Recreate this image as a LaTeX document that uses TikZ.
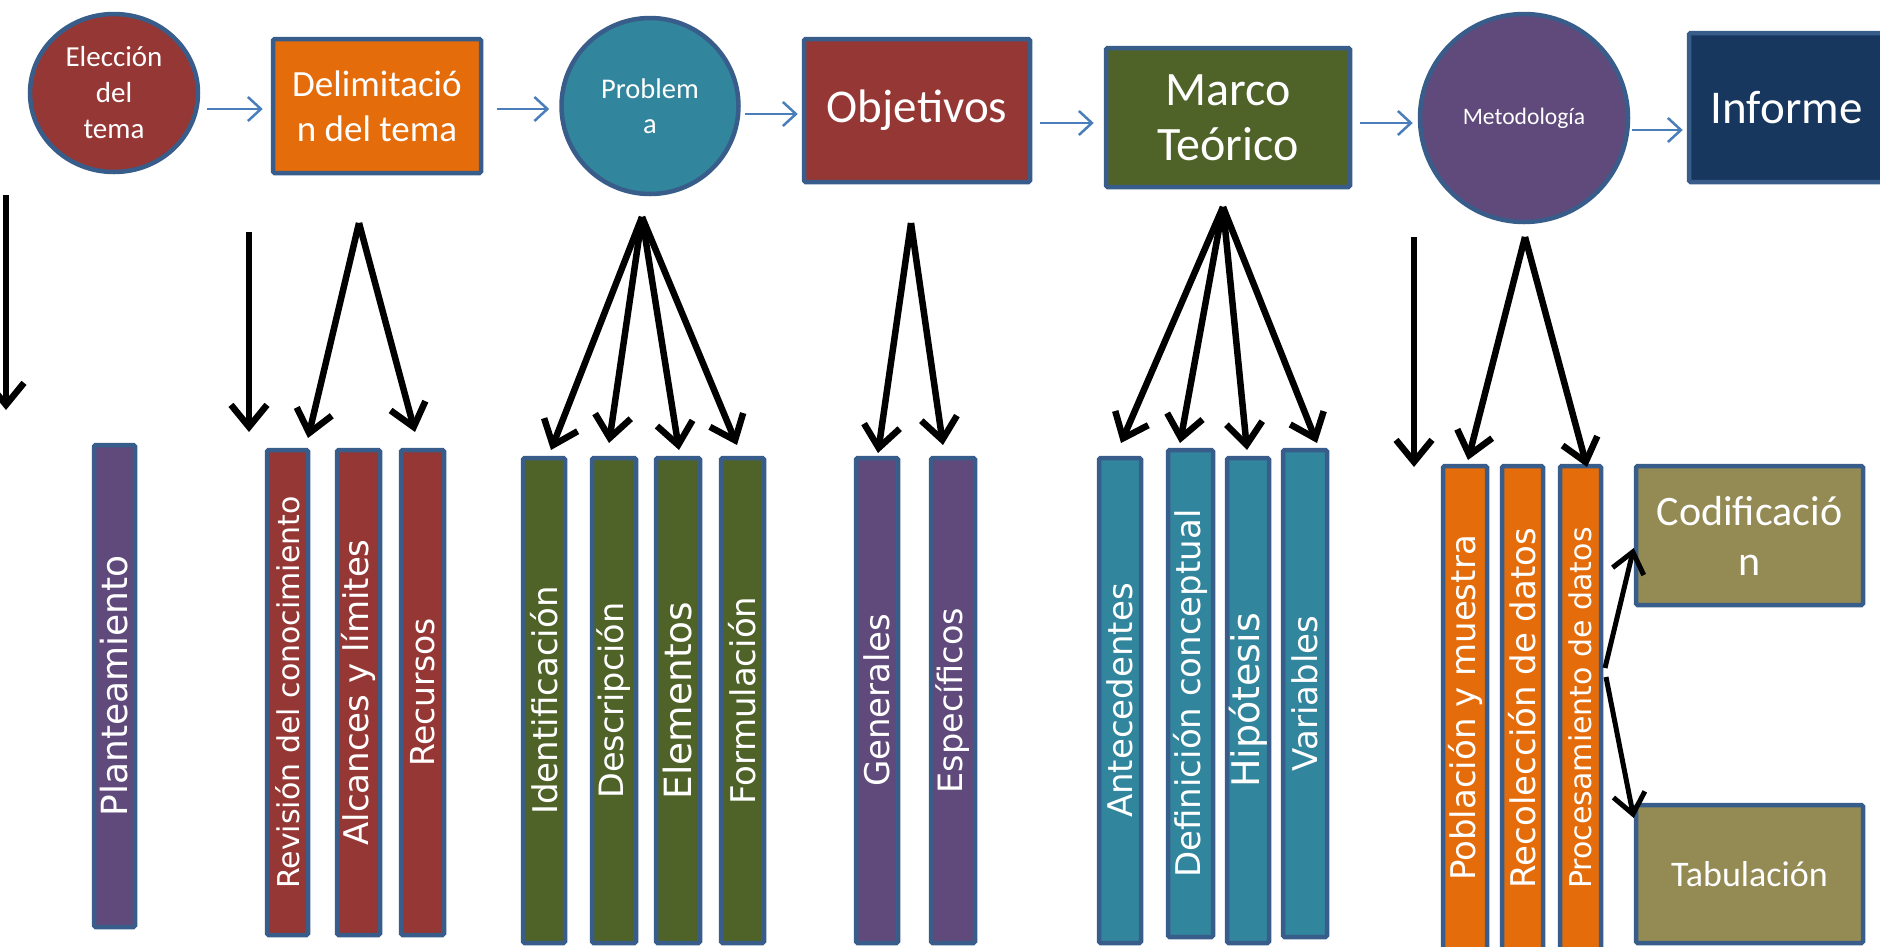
\documentclass[tikz,border=0pt]{standalone}
\usepackage{fontspec}
\setmainfont{Carlito}
\newfontfamily\barfont{DejaVu Sans}
\usetikzlibrary{arrows.meta,shapes.geometric}

\definecolor{edge}{HTML}{385D8A}
\definecolor{redfill}{HTML}{953735}
\definecolor{orangefill}{HTML}{E46C0A}
\definecolor{tealfill}{HTML}{31859C}
\definecolor{greenfill}{HTML}{4F6228}
\definecolor{purplefill}{HTML}{604A7B}
\definecolor{navyfill}{HTML}{17375E}
\definecolor{olivefill}{HTML}{948A54}
\definecolor{flowblue}{HTML}{4A7EBB}

\tikzset{
  shapebase/.style={draw=edge, line width=4.5pt, text=white, inner sep=0pt, align=center},
  stepcircle/.style={shapebase, ellipse},
  stepbox/.style={shapebase, rectangle, rounded corners=1.5pt},
  txt/.style={font=\fontsize{#1}{1.2*#1}\selectfont},
  bar/.style={shapebase, rectangle, rounded corners=1.5pt, rotate=90},
  barsize/.style={font=\barfont\fontsize{#1}{#1}\selectfont},
  flow/.style={draw=flowblue, line width=2.5pt, -{Straight Barb[length=13pt,width=24pt]}},
  branch/.style={draw=black, line width=6.5pt, -{Straight Barb[length=22pt,width=36pt]}},
  subbranch/.style={draw=black, line width=5pt, -{Straight Barb[length=20pt,width=32pt]}},
}

\begin{document}
\begin{tikzpicture}[x=1pt, y=-1pt]
\useasboundingbox (0,0) rectangle (1880,946);
\clip (0,0) rectangle (1880,946);

% main sequence
\node[stepcircle, fill=redfill, minimum width=168pt, minimum height=158pt,
      font=\fontsize{29}{36}\selectfont] (elec) at (114,93) {Elección\\del\\tema};
\node[stepbox, fill=orangefill, minimum width=208pt, minimum height=134pt,
      font=\fontsize{37}{45}\selectfont] (delim) at (377,106) {Delimitació\\n del tema};
\node[stepcircle, fill=tealfill, minimum width=177pt, minimum height=176pt,
      font=\fontsize{28.5}{35}\selectfont] (prob) at (650,106) {Problem\\a};
\node[stepbox, fill=redfill, minimum width=226pt, minimum height=143pt,
      font=\fontsize{47}{55}\selectfont] (obj) at (917,110.5) {Objetivos};
\node[stepbox, fill=greenfill, minimum width=244pt, minimum height=139pt,
      font=\fontsize{48}{55}\selectfont] (marco) at (1228,117.5) {Marco\\Teórico};
\node[stepcircle, fill=purplefill, minimum width=208pt, minimum height=208pt,
      font=\fontsize{23.6}{28}\selectfont] (met) at (1524,118) {Metodología};
\node[stepbox, fill=navyfill, minimum width=195pt, minimum height=149pt,
      font=\fontsize{47}{55}\selectfont] (inf) at (1786.5,107.5) {Informe};

\draw[flow, shorten <=7pt, shorten >=8pt] (elec.east |- 0,109) -- (delim.west |- 0,109);
\draw[flow, shorten <=14pt, shorten >=10pt] (delim.east |- 0,109) -- (prob.west |- 0,109);
\draw[flow, shorten <=4pt, shorten >=4pt] (prob.east |- 0,114) -- (obj.west |- 0,114);
\draw[flow, shorten <=8pt, shorten >=10pt] (obj.east |- 0,123) -- (marco.west |- 0,123);
\draw[flow, shorten <=8pt, shorten >=5pt] (marco.east |- 0,123) -- (met.west |- 0,123);
\draw[flow, shorten <=2pt, shorten >=4pt] (met.east |- 0,130) -- (inf.west |- 0,130);

% sub-items
\node[bar, fill=purplefill, minimum width=482pt, minimum height=41pt, barsize=36] (plant) at (114.5,686) {Planteamiento};

\node[bar, fill=redfill, minimum width=485pt, minimum height=41pt, barsize=30] (rev) at (287.5,692.5) {Revisión del conocimiento};
\node[bar, fill=redfill, minimum width=485pt, minimum height=43pt, barsize=34] (alc) at (358.5,692.5) {Alcances y límites};
\node[bar, fill=redfill, minimum width=485pt, minimum height=43pt, barsize=33] (rec) at (422.5,692.5) {Recursos};

\node[bar, fill=greenfill, minimum width=485pt, minimum height=42pt, barsize=34] (iden) at (544,700.5) {Identificación};
\node[bar, fill=greenfill, minimum width=485pt, minimum height=44pt, barsize=33.5] (desc) at (614,700.5) {Descripción};
\node[bar, fill=greenfill, minimum width=485pt, minimum height=44pt, barsize=37.5] (elem) at (678,700.5) {Elementos};
\node[bar, fill=greenfill, minimum width=485pt, minimum height=43pt, barsize=34] (form) at (742.5,700.5) {Formulación};

\node[bar, fill=purplefill, minimum width=485pt, minimum height=42pt, barsize=34] (gen) at (877,700.5) {Generales};
\node[bar, fill=purplefill, minimum width=485pt, minimum height=44pt, barsize=33.5] (esp) at (953,700.5) {Específicos};

\node[bar, fill=tealfill, minimum width=485pt, minimum height=42pt, barsize=34] (ante) at (1120,700.5) {Antecedentes};
\node[bar, fill=tealfill, minimum width=487pt, minimum height=45pt, barsize=34] (defi) at (1190.5,693.5) {Definición conceptual};
\node[bar, fill=tealfill, minimum width=485pt, minimum height=42pt, barsize=38] (hipo) at (1248,700.5) {Hipótesis};
\node[bar, fill=tealfill, minimum width=487pt, minimum height=44pt, barsize=34] (vari) at (1305,693.5) {Variables};

\node[bar, fill=orangefill, minimum width=484pt, minimum height=44pt, barsize=34] (pobl) at (1465,708) {Población y muestra};
\node[bar, fill=orangefill, minimum width=484pt, minimum height=41pt, barsize=34] (recol) at (1522.5,708) {Recolección de datos};
\node[bar, fill=orangefill, minimum width=484pt, minimum height=41pt, barsize=30] (proc) at (1580.5,708) {Procesamiento de datos};

\node[stepbox, fill=olivefill, minimum width=227pt, minimum height=139pt,
      font=\fontsize{42}{50}\selectfont] (codi) at (1749.5,535.5) {Codificació\\n};
\node[stepbox, fill=olivefill, minimum width=227pt, minimum height=138pt,
      font=\fontsize{36}{43}\selectfont] (tabu) at (1749.5,874) {Tabulación};

% branch arrows
\coordinate (elecFrom) at (6,195);      \coordinate (plantTo) at (6,410);
\coordinate (delimFrom) at (249,232);   \coordinate (delimTo) at (249,432);
\coordinate (delimApex) at (359,223);
\coordinate (revTo) at (308,438);       \coordinate (recTo) at (415,432);
\coordinate (probApex) at (642,217);
\coordinate (idenTo) at (551,450);      \coordinate (descTo) at (609,443);
\coordinate (elemTo) at (679,450);      \coordinate (formTo) at (737,445);
\coordinate (objApex) at (911,223);
\coordinate (genTo) at (878,453);       \coordinate (espTo) at (943,445);
\coordinate (marcoApex) at (1223,207);
\coordinate (anteTo) at (1121,443);     \coordinate (defiTo) at (1180,443);
\coordinate (hipoTo) at (1247,450);     \coordinate (variTo) at (1317,443);
\coordinate (metFrom) at (1414,237);    \coordinate (metTo) at (1414,467);
\coordinate (metApex) at (1525,237);
\coordinate (poblTo) at (1468,460);     \coordinate (procTo) at (1587,467);
\coordinate (procUp) at (1605,668);     \coordinate (procDown) at (1606,677);

\draw[branch] (elecFrom) -- (plantTo);
\draw[branch] (delimFrom) -- (delimTo);
\draw[branch] (delimApex) -- (revTo);
\draw[branch] (delimApex) -- (recTo);
\foreach \t in {idenTo,descTo,elemTo,formTo} \draw[branch] (probApex) -- (\t);
\foreach \t in {genTo,espTo} \draw[branch] (objApex) -- (\t);
\foreach \t in {anteTo,defiTo,hipoTo,variTo} \draw[branch] (marcoApex) -- (\t);
\draw[branch] (metFrom) -- (metTo);
\draw[branch] (metApex) -- (poblTo);
\draw[branch] (metApex) -- (procTo);
\draw[subbranch] (procUp) -- (codi.west |- 0,548);
\draw[subbranch] (procDown) -- (tabu.west |- 0,818);
\end{tikzpicture}
\end{document}
